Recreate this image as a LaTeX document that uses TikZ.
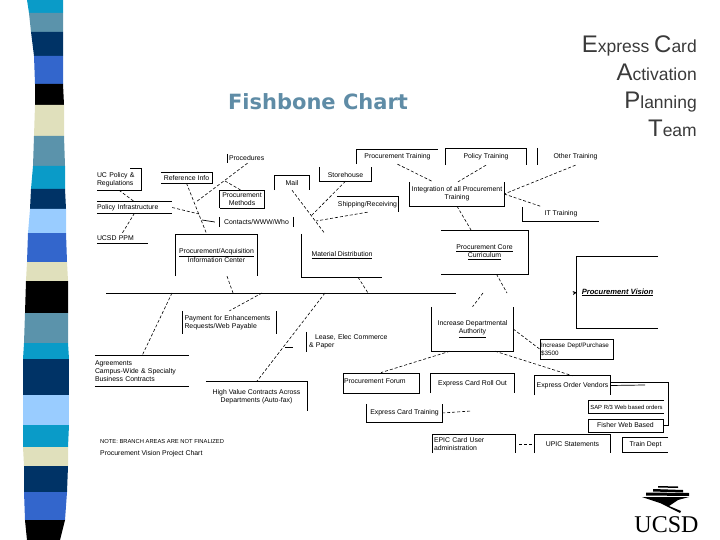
\documentclass[tikz,border=0pt]{standalone}
\usepackage{fontspec}
\setmainfont{Liberation Sans}
\newfontfamily\titlefont{DejaVu Sans}
\newfontfamily\logofont{Liberation Serif}
\usetikzlibrary{positioning, arrows.meta, calc}
\definecolor{stripeTeal}{HTML}{0A9BC8}
\definecolor{stripeGrey}{HTML}{5B93AB}
\definecolor{stripeNavy}{HTML}{003366}
\definecolor{stripeRoyal}{HTML}{3366CC}
\definecolor{stripeSky}{HTML}{99CCFF}
\definecolor{stripeSand}{HTML}{E0E0BC}
\definecolor{titleBlue}{HTML}{5F8CA6}
\definecolor{teamGrey}{HTML}{3A3A3A}
\newcommand{\bigini}[1]{{\fontsize{24}{28}\selectfont #1}}
\tikzset{
  boxtext/.style={
    inner sep=0pt, align=center, font=\fontsize{6.9}{8.2}\selectfont, text=black,
  },
  lefttext/.style={
    boxtext, align=left,
  },
  fullbox/.style={
    boxtext, draw=black, line width=0.8pt,
  },
  boxline/.style={
    draw=black, line width=0.9pt,
  },
  bone/.style={
    draw=black, line width=0.6pt, densely dashed,
  },
  stub/.style={
    draw=black, line width=0.7pt,
  },
  spineline/.style={
    draw=black, line width=1pt,
  },
}

\begin{document}
\begin{tikzpicture}[x=1pt, y=-1pt]
  \useasboundingbox (0,0) rectangle (720,540);

  % === Left stripe band ===
  \foreach \ya/\la/\ra/\yb/\lb/\rb/\col in {
    0/27/63/13/29/63/stripeTeal, 13/29/63/32/31/63/stripeGrey, 32/31/63/56/34/63/stripeNavy,
    56/34/63/84/35/63/stripeRoyal, 84/35/63/105/35/64/black, 105/35/64/136/34/64/stripeSand,
    136/34/64/166/33/65/stripeGrey, 166/33/65/189/31/65/stripeTeal, 189/31/65/209/30/66/stripeNavy,
    209/30/66/233/28/66/stripeSky, 233/28/66/262/27/67/stripeRoyal, 262/27/67/281/26/68/stripeSand,
    281/26/68/313/25/68/black, 313/25/68/343/24/68/stripeGrey, 343/24/68/359/23/69/stripeTeal,
    359/23/69/395/23/69/stripeNavy, 395/23/69/425/23/69/stripeSky, 425/23/69/447/23/68/stripeTeal,
    447/23/68/466/24/68/stripeSand, 466/24/68/492/24/67/stripeNavy, 492/24/67/520/25/65/stripeRoyal,
    520/25/65/540/27/60/black}
    \fill[\col] (\la,\ya) -- (\ra,\ya) -- (\rb,\yb) -- (\lb,\yb) -- cycle;

  % === Titles ===
  \node[font=\titlefont\bfseries\fontsize{21}{25}\selectfont, text=titleBlue] (title) at (318,102) {Fishbone Chart};
  \node[align=right, anchor=east, inner sep=0pt, text=teamGrey, font=\fontsize{17.5}{28}\selectfont] (team) at (697,86)
    {\bigini{E}xpress \bigini{C}ard\\\bigini{A}ctivation\\\bigini{P}lanning\\\bigini{T}eam};

  % === Spine ===
  \coordinate (spineleft) at (106,293.5);
  \coordinate (spineright) at (456,293.5);
  \coordinate (visionarrow) at (572,293);
  \draw[spineline] (spineleft) -- (spineright);

  % === Upper left: policy and information ===
  \node[lefttext, text width=44pt, minimum height=21pt] (ucpolicy) at (119,179.5) {UC Policy \&\\Regulations};
  \node[lefttext, text width=75pt, minimum height=11pt] (policyinfra) at (134.5,207.5) {Policy Infrastructure};
  \node[lefttext, text width=51pt, minimum height=10pt] (ucsdppm) at (122.5,238) {UCSD PPM};
  \node[boxtext, minimum width=51pt, minimum height=10pt] (reference) at (186.5,178) {Reference Info};
  \node[lefttext, text width=33pt, minimum height=9pt, xshift=1pt] (procedures) at (244.5,158.5) {Procedures};
  \node[boxtext, minimum width=44pt, minimum height=17pt] (methods) at (242,199.5) {Procurement\\Methods};
  \node[boxtext, minimum width=73pt, minimum height=10pt] (contacts) at (256.5,222) {Contacts/WWW/Who};
  \node[boxtext, minimum width=81pt, minimum height=41pt] (infocenter) at (216.5,255.5) {\underline{Procurement/Acquisition}\\Information Center};

  \draw[boxline] ([xshift=-11pt]ucpolicy.north east) -- (ucpolicy.north east) -- (ucpolicy.south east) -- (ucpolicy.south west);
  \draw[boxline] (policyinfra.north west) -- (policyinfra.north east);
  \draw[boxline] (policyinfra.south west) -- (policyinfra.south east);
  \draw[boxline] (ucsdppm.south west) -- (ucsdppm.south east);
  \draw[boxline] (reference.north west) -- (reference.north east) -- (reference.south east) -- (reference.south west);
  \draw[boxline] ([xshift=-1pt]procedures.north west) -- ([xshift=-1pt]procedures.south west);
  \draw[boxline] (methods.south west) -- (methods.north west) -- (methods.north east) -- (methods.south east) -- (methods.south west);
  \draw[boxline] (contacts.north west) -- (contacts.south west);
  \draw[boxline] (contacts.north east) -- (contacts.south east);
  \draw[boxline] (infocenter.south west) -- (infocenter.north west) -- (infocenter.north east) -- (infocenter.south east);

  \coordinate (infrajoin) at (199,214);
  \coordinate (procjoin) at (196,202);
  \coordinate (methjoin) at (225,181);
  \coordinate (contactjoin) at (202,220);
  \coordinate (infofoot) at (233,293);
  \draw[bone] (ucpolicy.south) -- (policyinfra.north);
  \draw[bone] (policyinfra.south) -- (ucsdppm.north);
  \draw[bone] (policyinfra.east) -- (infrajoin);
  \draw[bone] (reference.south) -- ([xshift=-9.5pt]infocenter.north);
  \draw[bone] ([xshift=2pt]procedures.south) -- (procjoin);
  \draw[bone] (methjoin) -- (methods.north);
  \draw[stub] (contactjoin) -- ([xshift=-5pt]contacts.west);
  \draw[bone] ([xshift=10.5pt]infocenter.south) -- (infofoot);

  % === Upper middle: distribution ===
  \node[boxtext, minimum width=34pt, minimum height=14pt] (mail) at (292,183) {Mail};
  \node[boxtext, minimum width=51pt, minimum height=12pt] (storehouse) at (345.5,175) {Storehouse};
  \node[boxtext, minimum width=61pt, minimum height=15pt] (shipping) at (367.5,204.5) {Shipping/Receiving};
  \node[boxtext, minimum width=80pt, minimum height=43pt] (material) at (342,255.5) {\underline{Material Distribution}};

  \draw[boxline] (mail.south west) -- (mail.north west) -- (mail.north east) -- (mail.south east);
  \draw[boxline] ([yshift=2pt]storehouse.north west) -- (storehouse.south west) -- (storehouse.south east) -- ([yshift=2pt]storehouse.north east);
  \draw[boxline] ([xshift=0pt]shipping.north west) -- (shipping.north east) -- (shipping.south east);
  \draw[boxline] (material.north west) -- (material.south west) -- (material.south east);

  \coordinate (storejoin) at (311,216);
  \coordinate (shipjoin) at (316,221);
  \coordinate (materialfoot) at (368,293);
  \draw[bone] (mail.south) -- ([xshift=-17pt]material.north);
  \draw[bone] (storehouse.south) -- (storejoin);
  \draw[bone] (shipping.south) -- (shipjoin);
  \draw[bone] ([xshift=16pt]material.south) -- (materialfoot);

  % === Upper right: training and curriculum ===
  \node[boxtext, minimum width=81pt, minimum height=14pt] (protrain) at (397.5,157) {Procurement Training};
  \node[boxtext, minimum width=80pt, minimum height=16pt] (poltrain) at (486,157) {Policy Training};
  \node[boxtext, minimum width=75pt, minimum height=17pt] (othertrain) at (575.5,156.5) {Other Training};
  \node[boxtext, minimum width=94pt, minimum height=24pt] (integration) at (457,194) {Integration of all Procurement\\Training};
  \node[boxtext, minimum width=76pt, minimum height=14pt] (ittrain) at (561,214) {IT Training};
  \node[boxtext, minimum width=87pt, minimum height=43pt] (core) at (484.5,252.5) {\underline{Procurement Core}\\\underline{Curriculum}};

  \draw[boxline] (protrain.south west) -- (protrain.north west) -- (protrain.north east);
  \draw[boxline] (poltrain.south west) -- (poltrain.north west) -- (poltrain.north east) -- (poltrain.south east);
  \draw[boxline] (othertrain.north west) -- (othertrain.south west);
  \draw[boxline] (integration.north west) -- (integration.south west) -- (integration.south east) -- (integration.north east);
  \draw[boxline] (ittrain.north west) -- (ittrain.south west) -- (ittrain.south east);
  \draw[boxline] (core.north west) -- (core.north east) -- (core.south east) -- (core.south west);

  \coordinate (corefoot) at (507,293);
  \draw[bone] (protrain.south) -- ([xshift=-24pt]integration.north);
  \draw[bone] (poltrain.south) -- ([xshift=1pt]integration.north);
  \draw[bone] (othertrain.south) -- (integration.east);
  \draw[bone] (integration.east) -- ([xshift=-19pt]ittrain.north);
  \draw[bone] (integration.south) -- ([xshift=-13pt]core.north);
  \draw[bone] ([xshift=12pt]core.south) -- (corefoot);

  % === Head of the fish ===
  \node[boxtext, minimum width=81pt, minimum height=71pt, font=\fontsize{7.6}{9}\selectfont\bfseries\itshape] (vision) at (617.5,292.5) {\underline{Procurement Vision}};
  \draw[boxline] (vision.north east) -- (vision.north west) -- (vision.south west) -- (vision.south east);
  \draw[-{Stealth[length=4pt, width=4pt]}, line width=0.6pt] ([xshift=1pt]visionarrow) -- (vision.west);

  % === Lower left: payment and contracts ===
  \node[lefttext, text width=90pt, minimum height=23pt] (payment) at (229.5,322.5) {Payment for Enhancements\\Requests/Web Payable};
  \node[lefttext, text width=94pt, minimum height=30pt] (agreements) at (142,371) {Agreements\\Campus-Wide \& Specialty\\Business Contracts};
  \node[boxtext, minimum width=101pt, minimum height=29pt] (highvalue) at (256.5,396.5) {High Value Contracts Across\\Departments (Auto-fax)};
  \node[lefttext, text width=76pt, minimum height=20pt] (lease) at (347,342) {\mbox{\hspace*{6pt}Lease, Elec Commerce}\\\& Paper};

  \draw[boxline] (payment.north west) ++(-2pt,0) -- ++(0,23);
  \draw[boxline] (payment.north east) ++(2pt,0) -- ++(0,23);
  \draw[boxline] (agreements.north west) -- (agreements.north east);
  \draw[boxline] (agreements.south west) -- (agreements.south east);
  \draw[boxline] (highvalue.north west) -- (highvalue.north east) -- (highvalue.south east);
  \draw[boxline] ([xshift=-2pt]lease.north west) -- ([xshift=-2pt]lease.south west);

  \coordinate (agreefoot) at (172,293);
  \coordinate (payfoot) at (262,293);
  \coordinate (highfoot) at (325,293);
  \coordinate (leasejoin) at (285,347);
  \coordinate (leasestub) at (293,347);
  \draw[bone] (agreefoot) -- (agreements.north);
  \draw[bone] (payfoot) -- (payment.north);
  \draw[bone] (highfoot) -- (highvalue.north);
  \draw[stub] (leasejoin) -- (leasestub);

  % === Lower right: departmental authority ===
  \node[boxtext, minimum width=81pt, minimum height=44pt] (deptauth) at (472.5,329) {Increase Departmental\\\underline{Authority}};
  \node[lefttext, text width=71pt, minimum height=20pt, draw=black, line width=0.8pt, inner xsep=1pt, font=\fontsize{6.3}{8}\selectfont] (purchase) at (576.5,349) {\mbox{Increase Dept/Purchase}\\\$3500};
  \node[lefttext, text width=74pt, minimum height=20pt, draw=black, line width=0.8pt, inner xsep=1pt] (forum) at (381,383) {\raisebox{3pt}{Procurement Forum}};
  \node[boxtext, minimum width=83pt, minimum height=19pt] (rollout) at (472.5,383.5) {\raisebox{2pt}{Express Card Roll Out}};
  \node[boxtext, minimum width=75pt, minimum height=19pt] (vendors) at (572.5,385.5) {\raisebox{2pt}{Express Order Vendors}};
  \node[boxtext, minimum width=75pt, minimum height=18pt] (cardtrain) at (404.5,413) {\raisebox{2pt}{Express Card Training}};
  \node[boxtext, minimum width=75pt, minimum height=12pt, font=\fontsize{5.9}{7}\selectfont] (sap) at (626.5,407) {SAP R/3 Web based orders};
  \node[fullbox, minimum width=75pt, minimum height=13pt] (fisher) at (625.5,425.5) {Fisher Web Based};
  \node[lefttext, text width=80pt, minimum height=18pt] (epic) at (474,444) {EPIC Card User\\administration};
  \node[boxtext, minimum width=75pt, minimum height=18pt] (statements) at (572.5,444) {UPIC Statements};
  \node[boxtext, minimum width=45pt, minimum height=14pt] (traindept) at (645.5,445) {Train Dept};

  \draw[boxline] (deptauth.north west) -- (deptauth.south west) -- (deptauth.south east) -- (deptauth.north east);
  \draw[boxline] (rollout.south west) -- (rollout.north west) -- (rollout.north east) -- (rollout.south east);
  \draw[boxline] (vendors.south west) -- (vendors.north west) -- (vendors.north east) -- (vendors.south east);
  \draw[boxline] (cardtrain.north west) -- (cardtrain.south west) -- (cardtrain.south east) -- (cardtrain.north east);
  \draw[boxline] (sap.north east) -- (sap.north west) -- (sap.south west) -- (sap.south east);
  \draw[boxline] ([xshift=-1pt]epic.south west) -- ([xshift=-1pt]epic.north west) -- ([xshift=1pt]epic.north east) -- ([xshift=1pt]epic.south east);
  \draw[boxline] (statements.south west) -- (statements.north west) -- (statements.north east) -- (statements.south east);
  \draw[boxline] (traindept.north east) -- (traindept.north west) -- (traindept.south west) -- (traindept.south east);

  \coordinate (deptfoot) at (483,293);
  \coordinate (cardjoin) at (471,411);
  \coordinate (vendorstub) at (645,385);
  \draw[bone] (deptfoot) -- (deptauth.north);
  \draw[bone] (deptauth.east) -- (purchase.west);
  \draw[bone] ([xshift=-22.5pt]deptauth.south) -- (forum.north);
  \draw[bone] ([xshift=22.5pt]deptauth.south) -- (vendors.north);
  \draw[bone] (cardtrain.east) -- (cardjoin);
  \draw[bone, shorten <=5pt, shorten >=2pt] (epic.east) -- (statements.west);
  \draw[stub] (vendors.east) -- (vendorstub);
  \draw[stub] ([yshift=3.5pt]vendors.east) -| ([xshift=5pt]fisher.east) -- (fisher.east);

  % === Footer ===
  \node[lefttext, anchor=west, font=\fontsize{5.8}{7}\selectfont] (note) at (100,442) {NOTE: BRANCH AREAS ARE NOT FINALIZED};
  \node[lefttext, anchor=west] (chartname) at (100,454) {Procurement Vision Project Chart};

  % === Logo ===
  \fill (658,486) -- (678,486.5) -- (678,488) -- (658,487.5) -- cycle;
  \fill (653,489) -- (683,490) -- (683,492.5) -- (653,491.5) -- cycle;
  \fill (646,492.5) -- (689,493) -- (689,496) -- (646,495.5) -- cycle;
  \fill (642,497) -- (689,497) -- (678,500) -- (669,506) -- (681,511) -- (680,513) -- (660,503) -- cycle;
  \node[font=\logofont\fontsize{24}{26}\selectfont, inner sep=0pt] (ucsd) at (666.5,525) {UCSD};

\end{tikzpicture}
\end{document}
